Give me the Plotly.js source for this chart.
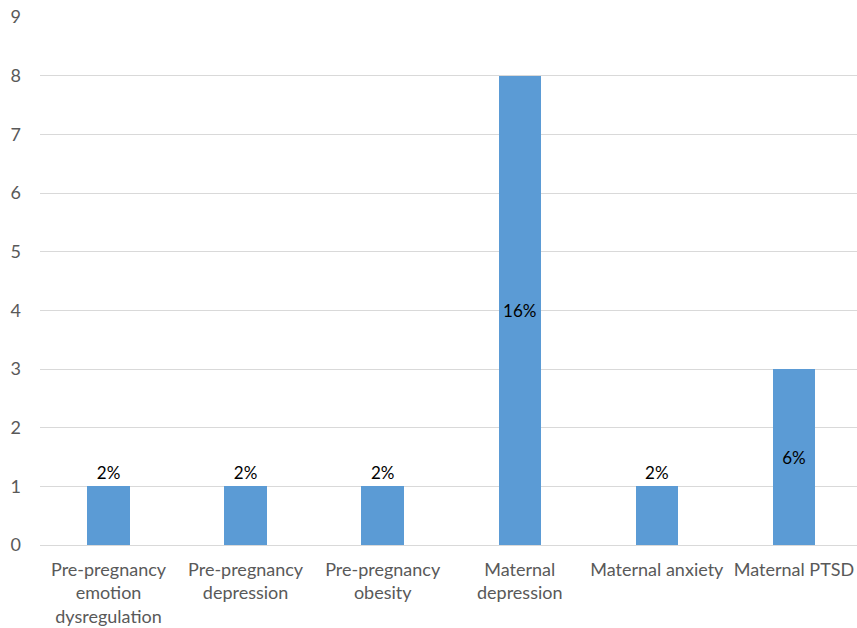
<!DOCTYPE html>
<html>
<head>
<meta charset="utf-8">
<script src="https://cdn.plot.ly/plotly-3.0.1.min.js"></script>
<style>html,body{margin:0;padding:0;background:#fff;}#chart{width:857px;height:628px;}</style>
</head>
<body>
<div id="chart"></div>
<script>
const categories = ["Pre-pregnancy<br>emotion<br>dysregulation", "Pre-pregnancy<br>depression", "Pre-pregnancy<br>obesity", "Maternal<br>depression", "Maternal anxiety", "Maternal PTSD"];
const counts = [1, 1, 1, 8, 1, 3];
const percentLabels = ["2%", "2%", "2%", "16%", "2%", "6%"];
const yTicks = [0, 1, 2, 3, 4, 5, 6, 7, 8, 9];

const fontFam = "Lato, 'Open Sans', sans-serif";
const xIdx = categories.map((c, i) => i);
const isSmall = counts.map(v => v < 2);

const trace = {
  type: 'bar',
  x: xIdx,
  y: counts,
  width: 0.31,
  marker: {color: '#5b9bd5'},
  text: percentLabels,
  textposition: isSmall.map(s => s ? 'outside' : 'inside'),
  insidetextanchor: 'middle',
  cliponaxis: false,
  textfont: {family: fontFam, size: 17, color: '#000'},
  outsidetextfont: {family: fontFam, size: 17, color: '#000'},
  insidetextfont: {family: fontFam, size: 17, color: '#000'},
  hoverinfo: 'none'
};

const layout = {
  width: 857, height: 628,
  margin: {l: 40, r: 0, t: 17, b: 83},
  paper_bgcolor: '#fff', plot_bgcolor: '#fff',
  showlegend: false,
  bargap: 0,
  xaxis: {
    range: [-0.5, 5.46],
    tickvals: xIdx, ticktext: categories,
    showgrid: false, zeroline: false, showline: false,
    ticks: '', ticklabelstandoff: 12,
    tickfont: {family: fontFam, size: 18, color: '#595959'}
  },
  yaxis: {
    range: [0, 9],
    tickvals: yTicks,
    showgrid: true, gridcolor: '#d9d9d9', gridwidth: 1,
    zeroline: true, zerolinecolor: '#d9d9d9', zerolinewidth: 1,
    showline: false, ticks: '', ticklabelstandoff: 18,
    tickfont: {family: fontFam, size: 18, color: '#595959'}
  }
};

Plotly.newPlot('chart', [trace], layout, {displayModeBar: false, staticPlot: true});
</script>
</body>
</html>
